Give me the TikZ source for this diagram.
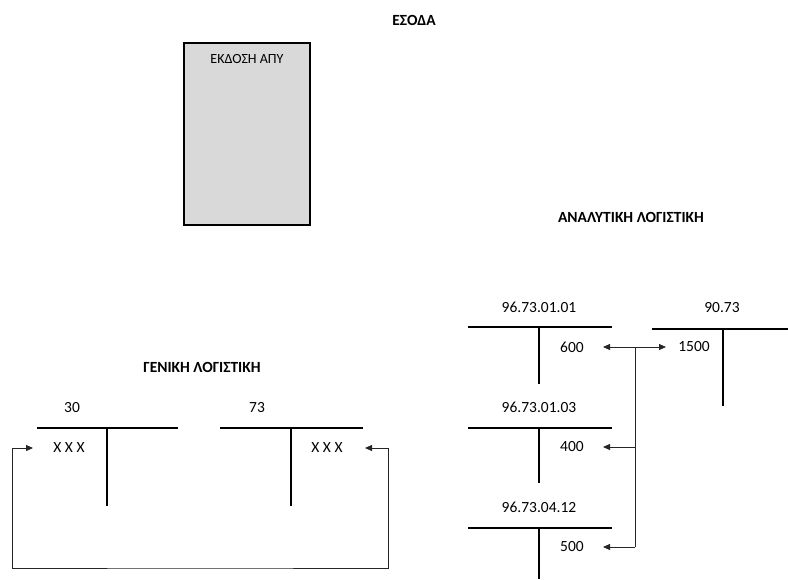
\documentclass[tikz,border=0pt]{standalone}
\usepackage{fontspec}
\setmainfont{Carlito}
\usetikzlibrary{arrows.meta}
\tikzset{
  lbl/.style={inner sep=0pt, anchor=center, font=\fontsize{15.5}{17}\selectfont},
  ttl/.style={inner sep=0pt, anchor=center, font=\bfseries\fontsize{15.5}{17}\selectfont},
  tbar/.style={line width=2.6pt},
  conn/.style={line width=0.8pt, draw=black!85},
  arr/.style={conn, -{Triangle[length=7pt,width=6pt]}},
  darr/.style={conn, {Triangle[length=7pt,width=6pt]}-{Triangle[length=7pt,width=6pt]}},
}
\begin{document}
\begin{tikzpicture}[x=1pt,y=-1pt]
\useasboundingbox (0,0) rectangle (788,579);
% titles
\node[ttl] (esoda) at (414,20) {ΕΣΟΔΑ};
\node[ttl] (anal) at (631,217) {ΑΝΑΛΥΤΙΚΗ ΛΟΓΙΣΤΙΚΗ};
\node[ttl] (gen) at (202,367) {ΓΕΝΙΚΗ ΛΟΓΙΣΤΙΚΗ};
% box
\draw[line width=1.8pt, fill={rgb,255:red,217;green,217;blue,217}] (184,43) rectangle (310,225);
\node[lbl, font=\fontsize{14}{16}\selectfont] (ekd) at (247,59) {ΕΚΔΟΣΗ ΑΠΥ};
% general ledger T accounts
\node[lbl] (n30) at (72,408) {30};
\draw[tbar] (37,428) -- (178,428);
\draw[tbar] (107,428) -- (107,506);
\node[lbl] (x30) at (69,448) {X X X};
\node[lbl] (n73) at (257,408) {73};
\draw[tbar] (220,428) -- (363,428);
\draw[tbar] (291,428) -- (291,506);
\node[lbl] (x73) at (327,448) {X X X};
\coordinate (lr) at (388,448);
\coordinate (ll) at (12,448);
\draw[arr] (lr) -- (365,448);
\draw[arr] (lr) |- (200,568) -| (ll) -- (33,448);
% analytic ledger
\node[lbl] (a1) at (539,307) {96.73.01.01};
\draw[tbar] (468,327) -- (612,327);
\draw[tbar] (539,327) -- (539,384);
\node[lbl] (v600) at (572,347) {600};
\node[lbl] (a9) at (722,308) {90.73};
\draw[tbar] (652,329) -- (788,329);
\draw[tbar] (723,329) -- (723,406);
\node[lbl] (v1500) at (694,347) {1500};
\node[lbl] (a2) at (539,407) {96.73.01.03};
\draw[tbar] (468,428) -- (612,428);
\draw[tbar] (539,428) -- (539,483);
\node[lbl] (v400) at (572,447) {400};
\node[lbl] (a3) at (539,507) {96.73.04.12};
\draw[tbar] (468,528) -- (612,528);
\draw[tbar] (539,528) -- (539,579);
\node[lbl] (v500) at (572,547) {500};
\coordinate (j1) at (635,347);
\coordinate (j2) at (635,447);
\coordinate (j3) at (635,547);
\draw[darr] (603,347) -- (666,347);
\draw[conn] (j1) -- (j3);
\draw[arr] (j2) -- (603,447);
\draw[arr] (j3) -- (603,547);
\end{tikzpicture}
\end{document}
